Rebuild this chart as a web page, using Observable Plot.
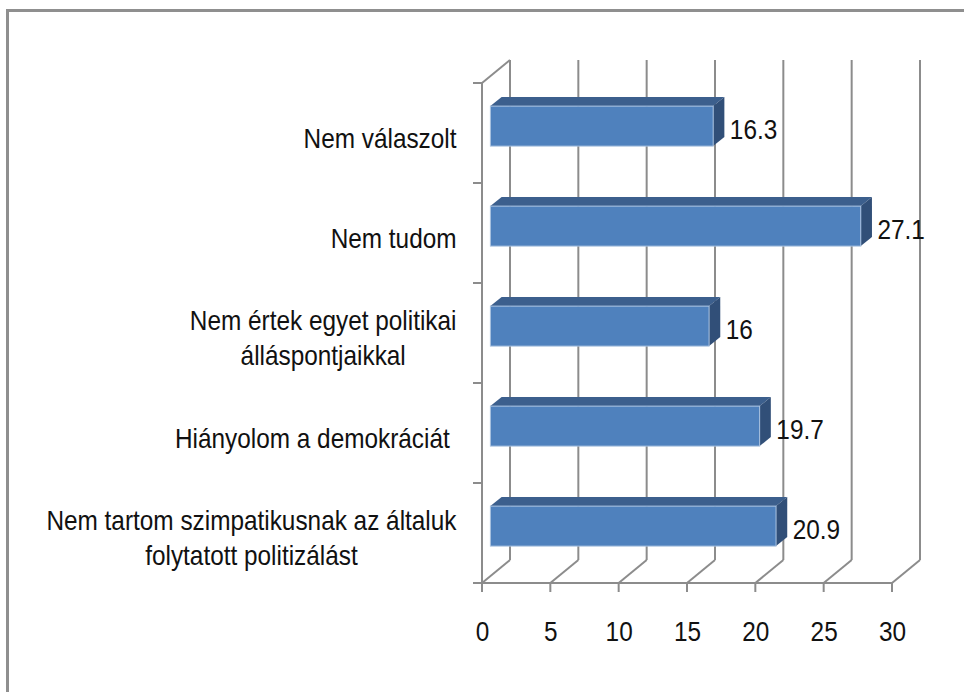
<!DOCTYPE html>
<html><head><meta charset="utf-8">
<script src="https://cdn.jsdelivr.net/npm/d3@7"></script>
<script src="https://cdn.jsdelivr.net/npm/@observablehq/plot@0.6"></script>
<style>
html,body{margin:0;padding:0;background:#fff;}
#wrap{position:relative;width:964px;height:692px;overflow:hidden;}
#frame{position:absolute;left:6px;top:9px;width:1000px;height:1000px;border-top:3px solid #8f8f8f;border-left:3px solid #8f8f8f;pointer-events:none;}
#chart{position:absolute;left:0;top:0;}
</style></head><body><div id="wrap"><div id="chart"></div><div id="frame"></div></div>
<script>
// ---- data ----
const categories = [
  "Nem válaszolt",
  "Nem tudom",
  "Nem értek egyet politikai\nálláspontjaikkal",
  "Hiányolom a demokráciát\u00a0",
  "Nem tartom szimpatikusnak az általuk\nfolytatott politizálást"
];
const values = [16.3, 27.1, 16, 19.7, 20.9];
const xTicks = [0, 5, 10, 15, 20, 25, 30];
const data = categories.map((c, i) => ({category: c, value: values[i]}));

// ---- style ----
const FONT = "'Liberation Sans', Arial, sans-serif";
const FS = 28;
const NARROW = 0.87;              // horizontal condensing of the text
const GRID = "#8c8c8c";
const FRONT = "#4f81bd", TOP = "#3c5f8d", SIDE = "#314f78";
const DEPTH = [28, -23];          // back wall offset in px
const F1 = 0.3, F2 = 0.7;         // bar depth range (fraction)
const D1 = [DEPTH[0]*F1, DEPTH[1]*F1], D2 = [DEPTH[0]*F2, DEPTH[1]*F2];
const INSET = 30;

function walls(index, scales, values, dim) {
  const x = scales.x;
  const top = dim.marginTop, bottom = dim.height - dim.marginBottom, left = dim.marginLeft;
  const n = categories.length, bw = (bottom - top) / n;
  const g = d3.create("svg:g").attr("stroke", GRID).attr("stroke-width", 2).attr("fill", "none");
  for (const t of xTicks) {
    const px = x(t);
    g.append("line").attr("x1", px + DEPTH[0]).attr("x2", px + DEPTH[0]).attr("y1", top + DEPTH[1]).attr("y2", bottom + DEPTH[1]);
    g.append("line").attr("x1", px).attr("y1", bottom).attr("x2", px + DEPTH[0]).attr("y2", bottom + DEPTH[1]);
    g.append("line").attr("x1", px).attr("y1", bottom).attr("x2", px).attr("y2", bottom + 9);
  }
  // left wall
  g.append("line").attr("x1", left).attr("x2", left).attr("y1", top).attr("y2", bottom);
  g.append("line").attr("x1", left).attr("y1", top).attr("x2", left + DEPTH[0]).attr("y2", top + DEPTH[1]);
  g.append("line").attr("x1", left).attr("x2", x(30)).attr("y1", bottom).attr("y2", bottom);
  for (let i = 0; i <= n; i++) {
    const py = top + i * bw;
    g.append("line").attr("x1", left - 9).attr("x2", left).attr("y1", py).attr("y2", py);
  }
  return g.node();
}

function faces(index, scales, values, dim) {
  const {x, y} = scales;
  const bw = (dim.height - dim.marginBottom - dim.marginTop) / categories.length;
  const ddx = D2[0] - D1[0], ddy = D2[1] - D1[1];
  const g = d3.create("svg:g");
  for (const d of data) {
    const x0 = x(0) + D1[0], x1 = x(d.value) + D1[0];
    const yt = y(d.category) + INSET + D1[1], yb = y(d.category) + bw - INSET + D1[1];
    g.append("path").attr("fill", TOP)
      .attr("d", `M${x0},${yt}L${x1},${yt}L${x1+ddx},${yt+ddy}L${x0+ddx},${yt+ddy}Z`);
    g.append("path").attr("fill", SIDE)
      .attr("d", `M${x1},${yt}L${x1+ddx},${yt+ddy}L${x1+ddx},${yb+ddy}L${x1},${yb}Z`);
  }
  return g.node();
}

const chart = Plot.plot({
  width: 964,
  height: 692,
  marginLeft: 482,
  marginRight: 72,
  marginTop: 83,
  marginBottom: 109,
  style: {fontFamily: FONT, background: "transparent", color: "#111"},
  x: {domain: [0, 30], axis: null},
  y: {domain: categories, padding: 0, axis: null},
  marks: [
    walls,
    faces,
    Plot.barX(data, {x: "value", y: "category", fill: FRONT, insetTop: INSET, insetBottom: INSET,
      dx: D1[0], dy: D1[1], stroke: "#a9c1df", strokeWidth: 1}),
    Plot.text(data, {x: "value", y: "category", text: d => String(d.value), textAnchor: "start",
      dx: D2[0] + 5, dy: -3, fontSize: FS, fill: "#111"}),
    Plot.text(data, {y: "category", text: "category", frameAnchor: "left", textAnchor: "end",
      dx: -26, dy: 3, fontSize: FS, lineHeight: 1.25, fill: "#111"}),
    Plot.text(xTicks, {x: d => d, text: d => String(d), frameAnchor: "bottom", dy: 57,
      fontSize: FS, fill: "#111"})
  ]
});
document.getElementById("chart").appendChild(chart);

// condense text horizontally and center multi-line category labels within their block
chart.querySelectorAll("text").forEach(t => {
  const tr = t.getAttribute("transform") || "";
  t.setAttribute("transform", `${tr} scale(${NARROW},1)`);
  const spans = t.querySelectorAll("tspan");
  if (spans.length > 1) {
    const w = Math.max(...Array.from(spans, s => s.getComputedTextLength()));
    t.setAttribute("text-anchor", "middle");
    spans.forEach(s => s.setAttribute("x", -w / 2));
  }
});
</script>
</body></html>
